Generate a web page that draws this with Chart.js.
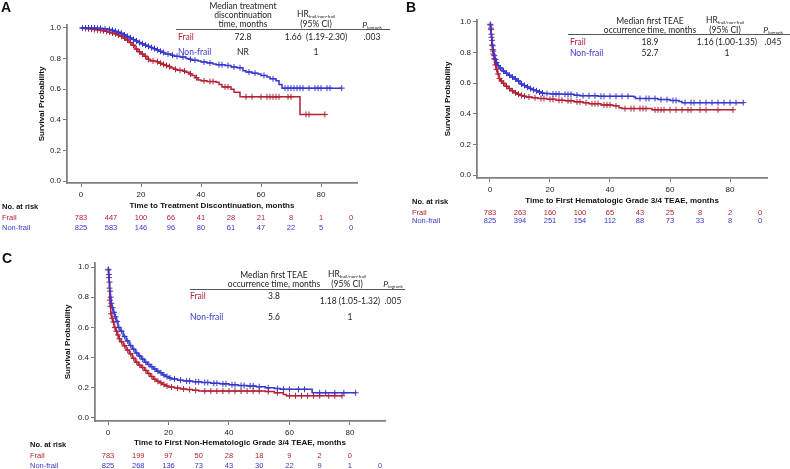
<!DOCTYPE html>
<html>
<head>
<meta charset="utf-8">
<script src="https://cdn.jsdelivr.net/npm/chart.js@4.4.0/dist/chart.umd.min.js"></script>
<style>
body{margin:0;background:#fff;}
#wrap{position:relative;width:790px;height:469px;overflow:hidden;}
canvas{position:absolute;}
.t{position:absolute;white-space:nowrap;font-family:Lato,"Open Sans",sans-serif;font-size:8.5px;color:#222;transform:translate(-50%,-50%);line-height:1;}
.l{transform:translate(0,-50%);}
.red{color:#b22234;}
.blue{color:#3636d0;}
.rule{position:absolute;height:1px;background:#555;}
.letter{position:absolute;font:bold 14px "Liberation Sans",Arial,sans-serif;color:#111;}
sub{font-size:4.5px;vertical-align:-1px;}
</style>
</head>
<body>
<div id="wrap">
  <canvas id="chartA" width="395" height="240" style="left:0;top:0"></canvas>
  <canvas id="chartB" width="390" height="230" style="left:400px;top:0"></canvas>
  <canvas id="chartC" width="400" height="219" style="left:0;top:250px"></canvas>

  <div class="letter" style="left:1px;top:-1px">A</div>
  <div class="letter" style="left:406px;top:-1px">B</div>
  <div class="letter" style="left:2px;top:250px">C</div>

  <!-- table A -->
  <div class="t" style="left:243px;top:6px">Median treatment</div>
  <div class="t" style="left:243px;top:15px">discontinuation</div>
  <div class="t" style="left:243px;top:24px">time, months</div>
  <div class="t" style="left:316px;top:15px">HR<sub>frail/non-frail</sub></div>
  <div class="t" style="left:316px;top:24px">(95% CI)</div>
  <div class="t" style="left:372px;top:26px"><i>P</i><sub>logrank</sub></div>
  <div class="rule" style="left:176px;top:29px;width:214px"></div>
  <div class="t l red" style="left:178px;top:37px">Frail</div>
  <div class="t" style="left:243px;top:37px">72.8</div>
  <div class="t" style="left:316px;top:37px">1.66&nbsp; (1.19-2.30)</div>
  <div class="t" style="left:372px;top:37px">.003</div>
  <div class="t l blue" style="left:178px;top:52px">Non-frail</div>
  <div class="t" style="left:243px;top:52px">NR</div>
  <div class="t" style="left:316px;top:52px">1</div>

  <!-- table B -->
  <div class="t" style="left:650px;top:21px">Median first TEAE</div>
  <div class="t" style="left:650px;top:30px">occurrence time, months</div>
  <div class="t" style="left:725px;top:21px">HR<sub>frail/non-frail</sub></div>
  <div class="t" style="left:725px;top:30px">(95% CI)</div>
  <div class="t" style="left:773px;top:31px"><i>P</i><sub>logrank</sub></div>
  <div class="rule" style="left:568px;top:34px;width:222px"></div>
  <div class="t l red" style="left:570px;top:42px">Frail</div>
  <div class="t" style="left:650px;top:42px">18.9</div>
  <div class="t" style="left:727px;top:42px">1.16 (1.00-1.35)</div>
  <div class="t" style="left:773px;top:42px">.045</div>
  <div class="t l blue" style="left:570px;top:53px">Non-frail</div>
  <div class="t" style="left:650px;top:53px">52.7</div>
  <div class="t" style="left:727px;top:53px">1</div>

  <!-- table C -->
  <div class="t" style="left:274px;top:275px">Median first TEAE</div>
  <div class="t" style="left:274px;top:284px">occurrence time, months</div>
  <div class="t" style="left:347px;top:275px">HR<sub>frail/non-frail</sub></div>
  <div class="t" style="left:347px;top:284px">(95% CI)</div>
  <div class="t" style="left:393px;top:285px"><i>P</i><sub>logrank</sub></div>
  <div class="rule" style="left:190px;top:289px;width:215px"></div>
  <div class="t l red" style="left:190px;top:296px">Frail</div>
  <div class="t" style="left:274px;top:296px">3.8</div>
  <div class="t" style="left:350px;top:301px">1.18 (1.05-1.32)</div>
  <div class="t" style="left:393px;top:301px">.005</div>
  <div class="t l blue" style="left:190px;top:317px">Non-frail</div>
  <div class="t" style="left:274px;top:317px">5.6</div>
  <div class="t" style="left:350px;top:317px">1</div>
</div>

<script>
// KM step points: time (months) and survival after the step
const aFrailT = [0,1,2,3,4,5,6,7,8,9,10,11,12,13,14,15,16,17,18,19,20,21,22,23,25,26,27,28,29,30,31,32,34,35,36,37,38,39,40,42,45,46,47,50,51,53,73,81.3];
const aFrailS = [1,0.997,0.995,0.993,0.99,0.988,0.985,0.982,0.978,0.973,0.968,0.962,0.955,0.946,0.935,0.922,0.905,0.888,0.862,0.845,0.83,0.815,0.795,0.785,0.78,0.77,0.762,0.755,0.748,0.738,0.73,0.724,0.718,0.71,0.7,0.69,0.675,0.66,0.655,0.65,0.645,0.63,0.615,0.6,0.58,0.55,0.435,0.435];
const aNonT = [0,5,7,9,10,11,12,13,14,15,16,17,18,19,20,21,22,23,24,25,26,27,28,30,31,33,35,36,37,39,40,42,44,45,48,50,52,54,55,57,59,60,62,63,65,66,67,86.9];
const aNonS = [1,0.998,0.995,0.99,0.985,0.978,0.972,0.965,0.955,0.945,0.935,0.925,0.915,0.905,0.897,0.888,0.88,0.872,0.865,0.857,0.848,0.84,0.83,0.822,0.815,0.81,0.8,0.795,0.79,0.785,0.778,0.772,0.765,0.76,0.755,0.745,0.74,0.72,0.712,0.705,0.7,0.69,0.68,0.668,0.655,0.63,0.607,0.607];
const aFrailCens = [0.5,1.5,2.5,3.5,4.5,5.5,6.5,7.5,8.5,9.5,10.5,11.5,12.5,13.5,14.5,15.5,16.5,17.5,18.5,19.5,20.5,21.5,22.5,24,25.5,26.5,27.5,28.5,29.5,31.5,33,34.5,36.5,38.5,41,43,44,48,49,55,57,60,62,63,64,65,66,69,70,75,76,81.3];
const aNonCens = [0.5,1.5,2.5,3.5,4.5,5.5,6.5,8,9.5,10.5,11.5,12.5,13.5,14.5,15.5,16.5,17.5,18.5,19.5,20.5,21.5,22.5,23.5,24.5,25.5,26.5,27.5,29,30.5,32,34,36.5,38,41,43,46,47,49,51,53,56,58,61,64,68,69,70,71,72,73,74,76,78,79,80,82,83,86.9];

const bFrailT = [0,0.2,0.4,0.6,0.8,1,1.3,1.6,2,2.5,3,3.5,4,5,6,7,8,9,10,11,12,14,16,19,22,25,28,31,33,37,41,43,44,54,81];
const bFrailS = [0.98,0.95,0.9,0.85,0.82,0.79,0.76,0.72,0.69,0.66,0.63,0.615,0.6,0.58,0.565,0.55,0.537,0.528,0.52,0.515,0.51,0.505,0.5,0.495,0.488,0.485,0.478,0.472,0.466,0.458,0.452,0.44,0.434,0.426,0.426];
const bNonT = [0,0.2,0.4,0.6,0.8,1,1.3,1.6,2,2.5,3,4,5,6,7,8,9,10,11,12,13,14,15,16,17,18,20,24,28,30,36,48,48.5,56,60,63,64,84.4];
const bNonS = [0.985,0.96,0.92,0.88,0.845,0.81,0.78,0.755,0.735,0.715,0.7,0.68,0.665,0.652,0.64,0.628,0.615,0.595,0.585,0.575,0.565,0.557,0.55,0.542,0.536,0.532,0.53,0.527,0.522,0.518,0.514,0.51,0.5,0.493,0.487,0.48,0.473,0.473];
const bFrailCens = [0.1,0.3,0.5,0.7,0.9,1.1,1.4,1.8,2.2,2.7,3.2,3.8,4.5,5.5,6.5,7.5,8.5,9.5,10.5,11.5,13,15,17,18,20,21,23,24,26,27,29,30,32,34,35,36,38,39,40,42,45,47,48,50,51,52,55,56,57,58,60,62,64,66,67,70,72,76,81];
const bNonCens = [0.1,0.3,0.5,0.7,0.9,1.1,1.4,1.8,2.2,2.7,3.5,4.5,5.5,6.5,7.5,8.5,9.5,10.5,11.5,12.5,13.5,14.5,15.5,16.5,17.5,19,21,22,23,25,26,27,29,31,33,35,37,38,40,42,44,46,50,52,53,55,57,59,61,62,65,67,68,70,72,74,76,78,80,82,84.4];

const cFrailT = [0,0.2,0.4,0.55,0.7,0.9,1.2,1.5,2,2.5,3,3.5,4,5,6,7,8,9,10,11,12,13,14,15,16,17,18,19,20,22,24,26,28,30,52,55,58,59,77.4];
const cFrailS = [0.98,0.93,0.86,0.78,0.74,0.69,0.66,0.635,0.6,0.575,0.55,0.525,0.505,0.478,0.45,0.425,0.395,0.37,0.35,0.335,0.315,0.295,0.275,0.256,0.243,0.233,0.222,0.212,0.205,0.198,0.192,0.188,0.183,0.178,0.175,0.167,0.155,0.147,0.147];
const cNonT = [0,0.2,0.4,0.6,0.8,1,1.3,1.7,2.2,2.7,3.3,4,5,6,7,8,9,10,11,12,13,14,15,16,17,18,19,20,21,23,25,28,31,34,37,40,43,46,49,52,55,57,67.5,81.9];
const cNonS = [0.985,0.95,0.9,0.84,0.8,0.76,0.73,0.7,0.67,0.64,0.6,0.575,0.54,0.51,0.48,0.455,0.43,0.41,0.39,0.37,0.355,0.34,0.325,0.31,0.3,0.285,0.275,0.265,0.258,0.25,0.245,0.24,0.235,0.23,0.226,0.22,0.215,0.212,0.207,0.2,0.195,0.19,0.167,0.167];
const cFrailCens = [0.1,0.3,0.5,0.65,0.8,1,1.4,1.8,2.3,2.8,3.3,3.8,4.5,5.5,6.5,7.5,8.5,9.5,10.5,11.5,12.5,13.5,14.5,15.5,16.5,17.5,18.5,19.5,21,23,25,27,29,32,34,36,38,40,42,44,46,48,50,53,56,60,62,64,66,68,70,73,75,77.4];
const cNonCens = [0.1,0.3,0.5,0.7,0.9,1.1,1.5,2,2.5,3,3.6,4.5,5.5,6.5,7.5,8.5,9.5,10.5,11.5,12.5,13.5,14.5,15.5,16.5,17.5,18.5,19.5,20.5,22,24,26,27,29,30,32,33,35,36,38,39,41,42,44,45,47,48,50,53,56,58,60,63,65,70,72,75,78,81.9];

// number at risk
const riskTimes = [0,10,20,30,40,50,60,70,80,90];
const aRiskFrail = [783,447,100,66,41,28,21,8,1,0];
const aRiskNon = [825,583,146,96,80,61,47,22,5,0];
const bRiskFrail = [783,263,160,100,65,43,25,8,2,0];
const bRiskNon = [825,394,251,154,112,88,73,33,8,0];
const cRiskFrail = [783,199,97,50,28,18,9,2,0];
const cRiskNon = [825,268,136,73,43,30,22,9,1,0];

const xTicks = [0,20,40,60,80];
const yTicks = [0,0.2,0.4,0.6,0.8,1.0];

const RED = '#b22234';
const BLUE = '#3636d0';
const FONT = '"Liberation Sans", Arial, sans-serif';

const stepAt = (times, survs, t) => {
    let v = survs[0];
    for (let i = 0; i < times.length; i++) if (times[i] <= t) v = survs[i];
    return v;
};
const toPts = (times, survs) => times.map((t, i) => ({x: t, y: survs[i]}));
const censPts = (cens, times, survs) => cens.map(t => ({x: t, y: stepAt(times, survs, t)}));

const riskPlugin = {
    id: 'riskTable',
    afterDraw(chart, args, opts) {
        const ctx = chart.ctx;
        const xs = chart.scales.x;
        ctx.save();
        ctx.textBaseline = 'middle';
        ctx.textAlign = 'left';
        ctx.font = 'bold 7.5px ' + FONT;
        ctx.fillStyle = '#111';
        ctx.fillText('No. at risk', opts.labelX, opts.headY);
        ctx.font = '7.5px ' + FONT;
        ctx.fillStyle = RED;
        ctx.fillText('Frail', opts.labelX, opts.frailY);
        ctx.fillStyle = BLUE;
        ctx.fillText('Non-frail', opts.labelX, opts.nonY);
        ctx.textAlign = 'center';
        riskTimes.forEach((t, i) => {
            const x = xs.getPixelForValue(t);
            if (i < opts.frail.length) {
                ctx.fillStyle = RED;
                ctx.fillText(String(opts.frail[i]), x, opts.frailY);
            }
            if (i < opts.non.length) {
                ctx.fillStyle = BLUE;
                ctx.fillText(String(opts.non[i]), x, opts.nonY);
            }
        });
        ctx.restore();
    }
};

function makeKm(id, cfg) {
    const ctx = document.getElementById(id).getContext('2d');
    return new Chart(ctx, {
        type: 'line',
        data: {
            datasets: [
                {data: toPts(cfg.nonT, cfg.nonS), borderColor: BLUE, borderWidth: 1.5, stepped: true, pointRadius: 0, fill: false},
                {data: toPts(cfg.frailT, cfg.frailS), borderColor: RED, borderWidth: 1.5, stepped: true, pointRadius: 0, fill: false},
                {data: censPts(cfg.nonCens, cfg.nonT, cfg.nonS), showLine: false, pointStyle: 'cross', pointRadius: 3, borderColor: BLUE, borderWidth: 1},
                {data: censPts(cfg.frailCens, cfg.frailT, cfg.frailS), showLine: false, pointStyle: 'cross', pointRadius: 3, borderColor: RED, borderWidth: 1}
            ]
        },
        options: {
            responsive: false,
            animation: false,
            events: [],
            layout: {padding: {left: 0, top: cfg.top, right: cfg.right, bottom: 0}},
            plugins: {
                legend: {display: false},
                tooltip: {enabled: false},
                riskTable: cfg.risk
            },
            scales: {
                x: {
                    type: 'linear',
                    min: cfg.xMin, max: cfg.xMax,
                    afterBuildTicks: s => { s.ticks = xTicks.map(v => ({value: v})); },
                    afterFit: s => { s.height = cfg.xHeight; },
                    ticks: {font: {size: 8, family: FONT}, color: '#222', padding: 3},
                    grid: {drawOnChartArea: false, tickLength: 4, color: '#777'},
                    border: {color: '#808080', width: 1.8},
                    title: {display: true, text: cfg.xTitle, color: '#111',
                        font: {size: 8, weight: 'bold', family: FONT},
                        padding: {top: 0, bottom: cfg.xTitlePad}}
                },
                y: {
                    min: cfg.yMin, max: cfg.yMax,
                    afterBuildTicks: s => { s.ticks = yTicks.map(v => ({value: v})); },
                    afterFit: s => { s.width = cfg.yWidth; },
                    ticks: {font: {size: 8, family: FONT}, color: '#222', padding: 2, callback: v => v.toFixed(1)},
                    grid: {drawOnChartArea: false, tickLength: 4, color: '#777'},
                    border: {color: '#808080', width: 1.8},
                    title: {display: true, text: 'Survival Probability', color: '#111',
                        font: {size: 8, weight: 'bold', family: FONT},
                        padding: {top: cfg.yTitlePad, bottom: 0}}
                }
            }
        },
        plugins: [riskPlugin]
    });
}

makeKm('chartA', {
    frailT: aFrailT, frailS: aFrailS, nonT: aNonT, nonS: aNonS,
    frailCens: aFrailCens, nonCens: aNonCens,
    xMin: -4.67, xMax: 92, yMin: -0.013, yMax: 1.0196,
    top: 25, right: 38, yWidth: 67, xHeight: 57, xTitlePad: 29, yTitlePad: 37,
    xTitle: 'Time to Treatment Discontinuation, months',
    risk: {frail: aRiskFrail, non: aRiskNon, labelX: 2, headY: 207, frailY: 218, nonY: 228}
});

makeKm('chartB', {
    frailT: bFrailT, frailS: bFrailS, nonT: bNonT, nonS: bNonS,
    frailCens: bFrailCens, nonCens: bNonCens,
    xMin: -4.33, xMax: 92.33, yMin: -0.0196, yMax: 1.013,
    top: 20, right: 23, yWidth: 77, xHeight: 52, xTitlePad: 24, yTitlePad: 43,
    xTitle: 'Time to First Hematologic Grade 3/4 TEAE, months',
    risk: {frail: bRiskFrail, non: bRiskNon, labelX: 12, headY: 202, frailY: 213, nonY: 221}
});

makeKm('chartC', {
    frailT: cFrailT, frailS: cFrailS, nonT: cNonT, nonS: cNonS,
    frailCens: cFrailCens, nonCens: cNonCens,
    xMin: -4.3, xMax: 91.6, yMin: -0.0199, yMax: 1.0265,
    top: 13, right: 15, yWidth: 95, xHeight: 48, xTitlePad: 21, yTitlePad: 63,
    xTitle: 'Time to First Non-Hematologic Grade 3/4 TEAE, months',
    risk: {frail: cRiskFrail, non: cRiskNon, labelX: 30, headY: 195, frailY: 206, nonY: 216}
});
</script>
</body>
</html>
